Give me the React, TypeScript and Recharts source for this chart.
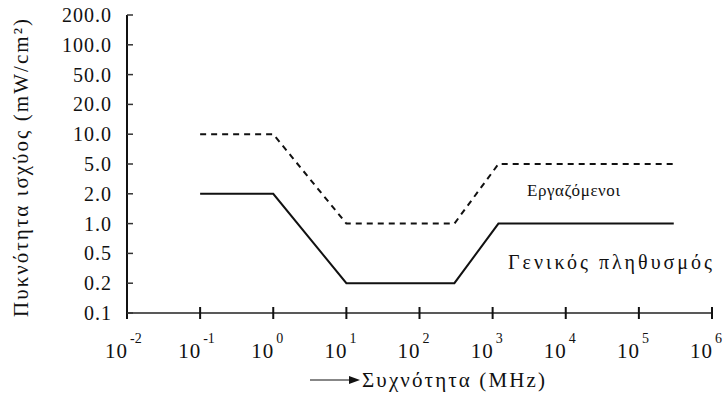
import React from 'react';
import { LineChart, Line, XAxis, YAxis, Customized } from 'recharts';

// frequency break points (MHz)
const freqs = [0.1, 1, 10, 300, 1200, 300000];
// power density limits (mW/cm²)
const workers = [10, 10, 1, 1, 5, 5];
const publicLimits = [2, 2, 0.2, 0.2, 1, 1];

const yLevels = [0.1, 0.2, 0.5, 1, 2, 5, 10, 20, 50, 100, 200];
const yTickLabels = ['0.1', '0.2', '0.5', '1.0', '2.0', '5.0', '10.0', '20.0', '50.0', '100.0', '200.0'];
const xTicks = [1e-2, 1e-1, 1, 1e1, 1e2, 1e3, 1e4, 1e5, 1e6];

const FONT = '"Liberation Serif", "DejaVu Serif", serif';

// y axis is evenly spaced by level, so each value is placed at its level index
const level = (v: number) => yLevels.indexOf(v);

const data = freqs.map((f, i) => ({
    f,
    workers: level(workers[i]),
    general: level(publicLimits[i]),
}));

const YTick = ({ x, y, payload }: any) => (
    <g>
        <path d={`M${x + 15},${y}L${x + 21},${y}`} stroke="#333" strokeWidth={1.5} />
        <text
            x={x}
            y={y}
            dy={7}
            textAnchor="end"
            fontFamily={FONT}
            fontSize={20}
            letterSpacing={1}
            fill="#111"
        >
            {yTickLabels[payload.value]}
        </text>
    </g>
);

const XTick = ({ x, y, payload }: any) => {
    const exp = Math.round(Math.log10(payload.value));
    return (
        <g>
            <path d={`M${x},${y - 6}L${x},${y + 6}`} stroke="#111" strokeWidth={2} />
            <text x={x + 1} y={y + 45} textAnchor="end" fontFamily={FONT} fontSize={21} letterSpacing={1} fill="#111">
                10
            </text>
            <text x={x + 3} y={y + 30} textAnchor="start" fontFamily={FONT} fontSize={14} fill="#111">
                {exp}
            </text>
        </g>
    );
};

const Annotations = () => (
    <g fontFamily={FONT} fill="#111">
        <text x={527} y={196} fontSize={17} textLength={93} lengthAdjust="spacing">Εργαζόμενοι</text>
        <text x={508} y={269} fontSize={20} textLength={204} lengthAdjust="spacing">Γενικός πληθυσμός</text>
        <text
            transform="translate(28,168) rotate(-90)"
            textAnchor="middle"
            fontSize={21}
            textLength={298}
            lengthAdjust="spacing"
        >
            Πυκνότητα ισχύος (mW/cm²)
        </text>
        <path d="M310,380L352,380" stroke="#111" strokeWidth={1.2} />
        <polygon points="360,380 349,376 349,384" fill="#111" />
        <text x={362} y={387} fontSize={21} textLength={183} lengthAdjust="spacing">Συχνότητα (MHz)</text>
    </g>
);

export default function App() {
    return (
        <div style={{ position: 'absolute', left: 0, top: 0, background: '#fff' }}>
            <LineChart width={723} height={398} data={data} margin={{ top: 15, right: 11, bottom: 0, left: 0 }}>
                <XAxis
                    dataKey="f"
                    type="number"
                    scale="log"
                    domain={[0.01, 1e6]}
                    ticks={xTicks}
                    allowDataOverflow
                    height={85}
                    tickSize={0}
                    tickMargin={0}
                    tickLine={false}
                    tick={XTick}
                    axisLine={{ stroke: '#222', strokeWidth: 1.5 }}
                    interval={0}
                />
                <YAxis
                    type="number"
                    domain={[0, 10]}
                    ticks={[0, 1, 2, 3, 4, 5, 6, 7, 8, 9, 10]}
                    width={127}
                    tickSize={0}
                    tickMargin={15}
                    tickLine={false}
                    tick={YTick}
                    axisLine={{ stroke: '#111', strokeWidth: 2 }}
                    interval={0}
                />
                <Line
                    dataKey="workers"
                    stroke="#111"
                    strokeWidth={2}
                    strokeDasharray="6 5"
                    dot={false}
                    isAnimationActive={false}
                />
                <Line
                    dataKey="general"
                    stroke="#111"
                    strokeWidth={2}
                    dot={false}
                    isAnimationActive={false}
                />
                <Customized component={Annotations} />
            </LineChart>
        </div>
    );
}
